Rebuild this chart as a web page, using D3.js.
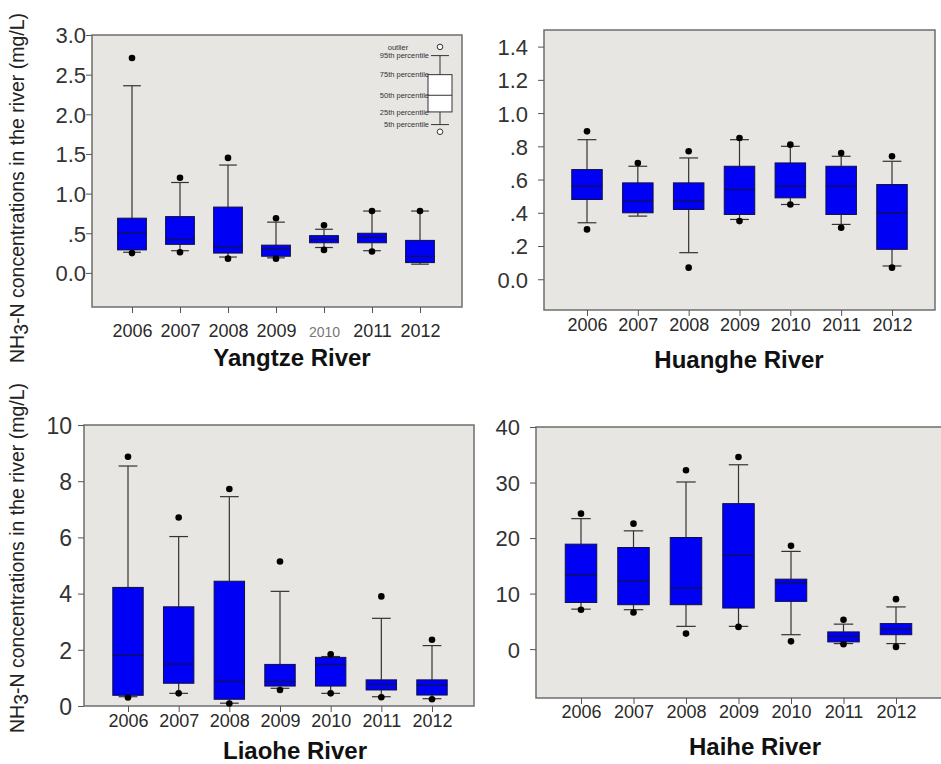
<!DOCTYPE html>
<html><head><meta charset="utf-8">
<script src="https://cdn.jsdelivr.net/npm/d3@7"></script>
<style>body{margin:0;background:#fff}svg{display:block}</style>
</head><body>
<script>
const years = ["2006","2007","2008","2009","2010","2011","2012"];

// Yangtze River
const yangtzeHigh   = [2.71, 1.20, 1.45, 0.69, 0.60, 0.78, 0.78];
const yangtzeP95    = [2.36, 1.14, 1.36, 0.64, 0.55, 0.78, 0.78];
const yangtzeP75    = [0.69, 0.71, 0.83, 0.35, 0.47, 0.50, 0.41];
const yangtzeMedian = [0.50, 0.42, 0.33, 0.30, 0.42, 0.45, 0.21];
const yangtzeP25    = [0.29, 0.36, 0.25, 0.21, 0.38, 0.38, 0.13];
const yangtzeP5     = [0.26, 0.28, 0.20, 0.19, 0.32, 0.28, 0.11];
const yangtzeLow    = [0.25, 0.26, 0.18, 0.18, 0.29, 0.27, null];
const yangtzeTicks  = [0, 0.5, 1.0, 1.5, 2.0, 2.5, 3.0];
const yangtzeTickLabels = ["0.0", ".5", "1.0", "1.5", "2.0", "2.5", "3.0"];

// Huanghe River
const huangheHigh   = [0.89, 0.70, 0.77, 0.85, 0.81, 0.76, 0.74];
const huangheP95    = [0.84, 0.68, 0.73, 0.84, 0.80, 0.74, 0.71];
const huangheP75    = [0.66, 0.58, 0.58, 0.68, 0.70, 0.68, 0.57];
const huangheMedian = [0.56, 0.47, 0.47, 0.54, 0.56, 0.56, 0.40];
const huangheP25    = [0.48, 0.40, 0.42, 0.39, 0.49, 0.39, 0.18];
const huangheP5     = [0.34, 0.38, 0.16, 0.36, 0.45, 0.33, 0.08];
const huangheLow    = [0.30, null, 0.07, 0.35, 0.45, 0.31, 0.07];
const huangheTicks  = [0, 0.2, 0.4, 0.6, 0.8, 1.0, 1.2, 1.4];
const huangheTickLabels = ["0.0", ".2", ".4", ".6", ".8", "1.0", "1.2", "1.4"];

// Liaohe River
const liaoheHigh   = [8.87, 6.71, 7.72, 5.14, 1.84, 3.90, 2.36];
const liaoheP95    = [8.54, 6.03, 7.45, 4.08, 1.76, 3.12, 2.15];
const liaoheP75    = [4.22, 3.53, 4.44, 1.48, 1.73, 0.93, 0.93];
const liaoheMedian = [1.80, 1.49, 0.87, 0.87, 1.48, 0.77, 0.75];
const liaoheP25    = [0.38, 0.81, 0.24, 0.71, 0.71, 0.57, 0.39];
const liaoheP5     = [0.33, 0.45, 0.10, 0.63, 0.45, 0.33, 0.26];
const liaoheLow    = [0.30, 0.45, 0.09, 0.57, 0.45, 0.31, 0.24];
const liaoheTicks  = [0, 2, 4, 6, 8, 10];
const liaoheTickLabels = ["0", "2", "4", "6", "8", "10"];

// Haihe River
const haiheHigh   = [24.4, 22.6, 32.2, 34.6, 18.6, 5.3, 9.0];
const haiheP95    = [23.5, 21.3, 30.1, 33.2, 17.6, 4.5, 7.6];
const haiheP75    = [18.9, 18.3, 20.1, 26.2, 12.6, 3.1, 4.6];
const haiheMedian = [13.4, 12.3, 11.0, 16.9, 11.9, 2.3, 3.6];
const haiheP25    = [8.4, 8.0, 8.0, 7.4, 8.6, 1.3, 2.6];
const haiheP5     = [7.2, 7.1, 4.1, 4.1, 2.6, 1.0, 1.0];
const haiheLow    = [7.1, 6.6, 2.8, 4.0, 1.4, 0.9, 0.4];
const haiheTicks  = [0, 10, 20, 30, 40];
const haiheTickLabels = ["0", "10", "20", "30", "40"];

// legend sample (in Yangtze units)
const legendLabels = ["outlier", "95th percentile", "75th percentile", "50th percentile", "25th percentile", "5th percentile"];
const legendValues = [2.85, 2.74, 2.50, 2.24, 2.03, 1.87, 1.78];

const titles = ["Yangtze River", "Huanghe River", "Liaohe River", "Haihe River"];

const W = 941, H = 764;
const svg = d3.select("body").append("svg").attr("width", W).attr("height", H);
const FONT = "'Liberation Sans', Arial, sans-serif";

const panels = [
  {title: titles[0], high: yangtzeHigh, p95: yangtzeP95, p75: yangtzeP75, med: yangtzeMedian, p25: yangtzeP25, p5: yangtzeP5, low: yangtzeLow,
   ticks: yangtzeTicks, tickLabels: yangtzeTickLabels, domain: [-0.43, 3.0],
   x0: 92, x1: 462, y0: 35, y1: 307, cx: [132, 420], labelGap: 6, yearY: 337, titleY: 366, titleX: 292, tickFont: 22, yLabY: 188},
  {title: titles[1], high: huangheHigh, p95: huangheP95, p75: huangheP75, med: huangheMedian, p25: huangheP25, p5: huangheP5, low: huangheLow,
   ticks: huangheTicks, tickLabels: huangheTickLabels, domain: [-0.185, 1.5],
   x0: 544, x1: 935, y0: 30, y1: 310, cx: [587, 892], labelGap: 16, yearY: 331, titleY: 368, titleX: 739, tickFont: 22},
  {title: titles[2], high: liaoheHigh, p95: liaoheP95, p75: liaoheP75, med: liaoheMedian, p25: liaoheP25, p5: liaoheP5, low: liaoheLow,
   ticks: liaoheTicks, tickLabels: liaoheTickLabels, domain: [0, 10],
   x0: 84, x1: 474, y0: 425, y1: 706, cx: [128, 432], labelGap: 12, yearY: 727, titleY: 759, titleX: 295, tickFont: 23, yLabY: 558},
  {title: titles[3], high: haiheHigh, p95: haiheP95, p75: haiheP75, med: haiheMedian, p25: haiheP25, p5: haiheP5, low: haiheLow,
   ticks: haiheTicks, tickLabels: haiheTickLabels, domain: [-8.8, 40],
   x0: 536, x1: 945, y0: 427, y1: 698, cx: [581, 896], labelGap: 16, yearY: 718, titleY: 755, titleX: 755, tickFont: 22}
];

panels.forEach((p, pi) => {
  const g = svg.append("g");
  const x = d3.scalePoint().domain(years).range(p.cx);
  const y = d3.scaleLinear().domain(p.domain).range([p.y1, p.y0]);
  const step = x.step();
  const bw = step * 0.6, cw = step * 0.37;

  g.append("rect").attr("x", p.x0).attr("y", p.y0).attr("width", p.x1 - p.x0).attr("height", p.y1 - p.y0)
    .attr("fill", "#e8e6e3").attr("stroke", "#6e6e6e").attr("stroke-width", 1.5);

  const yAxis = d3.axisLeft(y).tickValues(p.ticks).tickSize(6).tickFormat((d, i) => p.tickLabels[i]);
  const ya = g.append("g").attr("transform", `translate(${p.x0},0)`).call(yAxis);
  ya.select(".domain").remove();
  ya.selectAll(".tick line").attr("stroke", "#555");
  ya.selectAll(".tick text").attr("x", -p.labelGap).attr("font-family", FONT).attr("font-size", p.tickFont)
    .attr("fill", "#333").attr("dy", "0.36em");

  const xAxis = d3.axisBottom(x).tickSize(6).tickPadding(0).tickFormat(d => d);
  const xa = g.append("g").attr("transform", `translate(0,${p.y1})`).call(xAxis);
  xa.select(".domain").remove();
  xa.selectAll(".tick line").attr("stroke", "#555");
  xa.selectAll(".tick text").attr("y", p.yearY - p.y1).attr("dy", 0)
    .attr("font-family", FONT).attr("font-size", 18).attr("fill", "#2a2a2a")
    .each(function(d) {
      if (pi === 0 && d === "2010") d3.select(this).attr("font-size", 14).attr("fill", "#777");
    });

  const data = years.map((yr, i) => ({yr, high: p.high[i], p95: p.p95[i], p75: p.p75[i], med: p.med[i], p25: p.p25[i], p5: p.p5[i], low: p.low[i]}));
  const bg = g.selectAll("g.box").data(data).join("g").attr("class", "box");
  const ln = (sel) => sel.attr("stroke", "#333").attr("stroke-width", 1.2);
  ln(bg.append("line").attr("x1", d => x(d.yr)).attr("x2", d => x(d.yr)).attr("y1", d => y(d.p95)).attr("y2", d => y(d.p75)));
  ln(bg.append("line").attr("x1", d => x(d.yr)).attr("x2", d => x(d.yr)).attr("y1", d => y(d.p25)).attr("y2", d => y(d.p5)));
  ln(bg.append("line").attr("x1", d => x(d.yr) - cw / 2).attr("x2", d => x(d.yr) + cw / 2).attr("y1", d => y(d.p95)).attr("y2", d => y(d.p95)));
  ln(bg.append("line").attr("x1", d => x(d.yr) - cw / 2).attr("x2", d => x(d.yr) + cw / 2).attr("y1", d => y(d.p5)).attr("y2", d => y(d.p5)));
  bg.append("rect").attr("x", d => x(d.yr) - bw / 2).attr("width", bw)
    .attr("y", d => y(d.p75)).attr("height", d => Math.max(1, y(d.p25) - y(d.p75)))
    .attr("fill", "#0000f5").attr("stroke", "#101040").attr("stroke-width", 1);
  bg.append("line").attr("x1", d => x(d.yr) - bw / 2).attr("x2", d => x(d.yr) + bw / 2).attr("y1", d => y(d.med)).attr("y2", d => y(d.med))
    .attr("stroke", "#101050").attr("stroke-width", 1.3);
  bg.filter(d => d.high != null).append("circle").attr("cx", d => x(d.yr)).attr("cy", d => y(d.high)).attr("r", 3.3).attr("fill", "#000");
  bg.filter(d => d.low != null).append("circle").attr("cx", d => x(d.yr)).attr("cy", d => y(d.low)).attr("r", 3.3).attr("fill", "#000");

  g.append("text").attr("x", p.titleX).attr("y", p.titleY).attr("text-anchor", "middle")
    .attr("font-family", FONT).attr("font-weight", "bold").attr("font-size", 24).attr("fill", "#111").text(p.title);

  if (p.yLabY) {
    const t = g.append("text").attr("transform", `translate(24,${p.yLabY}) rotate(-90)`)
      .attr("text-anchor", "middle").attr("font-family", FONT).attr("font-size", 19.5).attr("fill", "#222");
    t.append("tspan").text("NH");
    t.append("tspan").attr("dy", 4).text("3");
    t.append("tspan").attr("dy", -4).text("-N concentrations in the river (mg/L)");
  }

  if (pi === 0) {
    const lx = p.x1 - 22, lbw = 24, lcw = 18;
    const lv = legendValues;
    const lg = g.append("g");
    lg.append("line").attr("x1", lx).attr("x2", lx).attr("y1", y(lv[1])).attr("y2", y(lv[5])).attr("stroke", "#333");
    lg.append("line").attr("x1", lx - lcw / 2).attr("x2", lx + lcw / 2).attr("y1", y(lv[1])).attr("y2", y(lv[1])).attr("stroke", "#333");
    lg.append("line").attr("x1", lx - lcw / 2).attr("x2", lx + lcw / 2).attr("y1", y(lv[5])).attr("y2", y(lv[5])).attr("stroke", "#333");
    lg.append("rect").attr("x", lx - lbw / 2).attr("width", lbw).attr("y", y(lv[2])).attr("height", y(lv[4]) - y(lv[2]))
      .attr("fill", "#fff").attr("stroke", "#333");
    lg.append("line").attr("x1", lx - lbw / 2).attr("x2", lx + lbw / 2).attr("y1", y(lv[3])).attr("y2", y(lv[3])).attr("stroke", "#333");
    lg.append("circle").attr("cx", lx).attr("cy", y(lv[0])).attr("r", 2.8).attr("fill", "#fff").attr("stroke", "#333");
    lg.append("circle").attr("cx", lx).attr("cy", y(lv[6])).attr("r", 2.8).attr("fill", "#fff").attr("stroke", "#333");
    legendLabels.forEach((lab, i) => {
      lg.append("text").attr("x", i === 0 ? lx - 42 : lx - 11).attr("y", y(lv[i])).attr("dy", "0.35em")
        .attr("text-anchor", i === 0 ? "middle" : "end")
        .attr("font-family", FONT).attr("font-size", 7.5).attr("fill", "#333").text(lab);
    });
  }
});
</script>
</body></html>
